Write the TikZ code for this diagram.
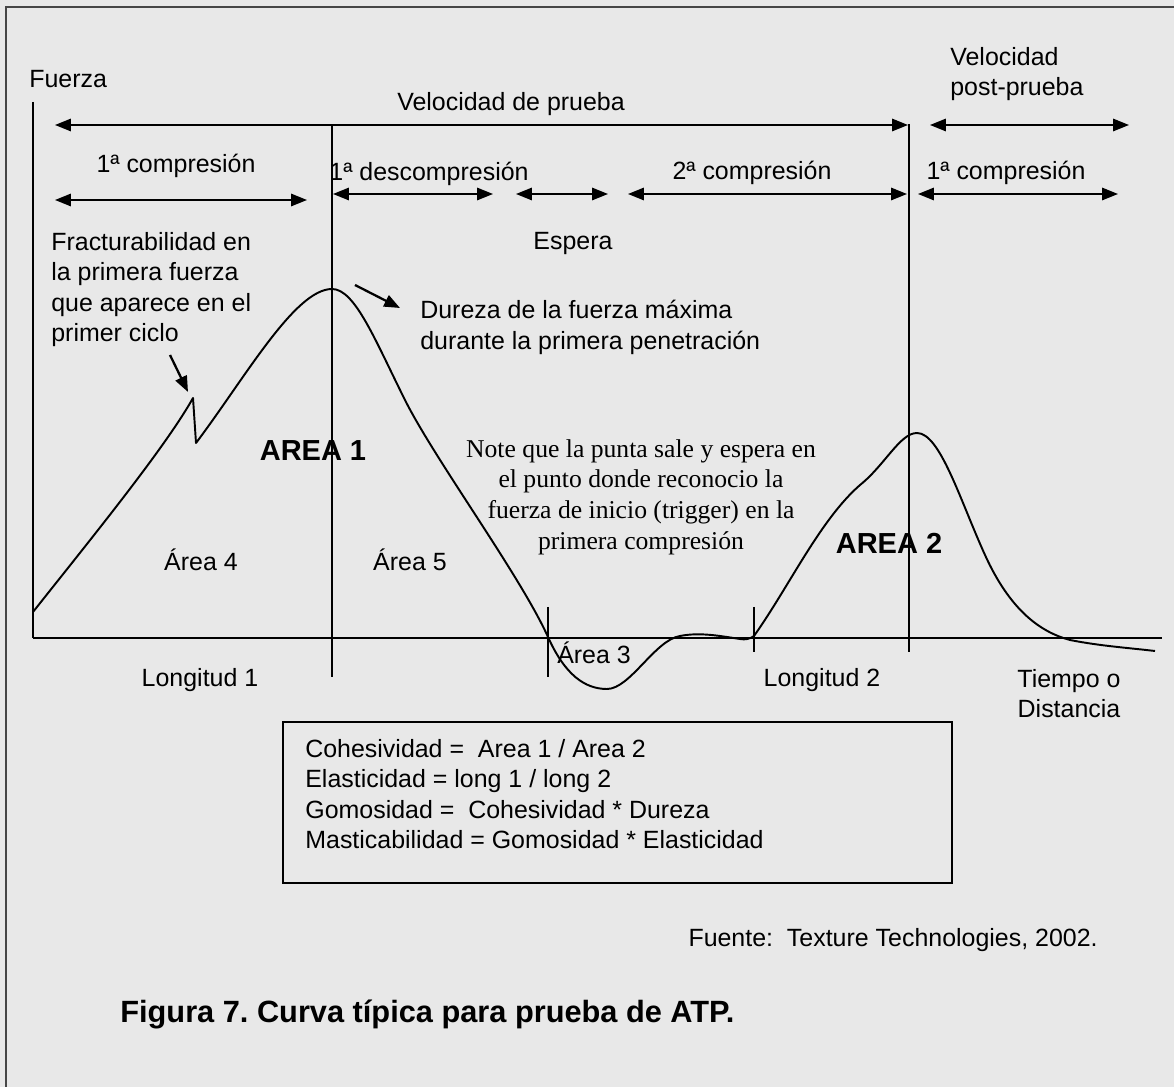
\documentclass[tikz,border=0pt]{standalone}
\usepackage{fontspec}
\setmainfont{Liberation Sans}
\newfontfamily\notefont{Liberation Serif}
\usetikzlibrary{arrows.meta}
\definecolor{fondo}{RGB}{232,232,232}
\definecolor{marco}{RGB}{70,70,70}
\frenchspacing

\begin{document}
\begin{tikzpicture}[x=0.02cm, y=-0.02cm,
		txt/.style={font=\fontsize{14.2}{17.3}\selectfont, inner sep=0pt},
		nota/.style={font=\notefont\fontsize{14.6}{17.5}\selectfont, inner sep=0pt, align=center},
		grande/.style={font=\bfseries\fontsize{16.5}{19}\selectfont, inner sep=0pt},
		rango/.style={{Triangle[length=9pt,width=7pt]}-{Triangle[length=9pt,width=7pt]}, line width=1pt},
		flecha/.style={-{Triangle[length=9pt,width=7pt]}, line width=1.3pt},
		guia/.style={line width=0.9pt},
		curva/.style={line width=1.1pt, line join=round}]
		% fondo y marco
		\fill[fondo] (0,0) rectangle (1174,1087);
		\useasboundingbox (0,0) rectangle (1174,1087);
		\draw[marco, line width=1.2pt] (6,1087) -- (6,7) -- (1174,7);

		% ejes
		\coordinate (origen) at (33,638);
		\coordinate (ytop) at (33,102);
		\coordinate (xfin) at (1162,638);
		\draw[line width=1.7pt] (ytop) -- (origen);
		\draw[line width=1pt] (origen) -- (xfin);
		\node[txt, anchor=base west] (fuerza) at (29,88) {Fuerza};

		% lineas guia
		\coordinate (g1t) at (332,125); \coordinate (g1b) at (332,677);
		\coordinate (g2t) at (909,124); \coordinate (g2b) at (909,652);
		\coordinate (t1t) at (548,607); \coordinate (t1b) at (548,677);
		\coordinate (t2t) at (754,607); \coordinate (t2b) at (754,652);
		\draw[guia] (g1t) -- (g1b);
		\draw[guia] (g2t) -- (g2b);
		\draw[guia] (t1t) -- (t1b);
		\draw[guia] (t2t) -- (t2b);

		% rangos de velocidad
		\coordinate (v1a) at (55,125); \coordinate (v1b) at (908,125);
		\coordinate (v2a) at (930,125); \coordinate (v2b) at (1129,125);
		\draw[rango] (v1a) -- (v1b);
		\draw[rango] (v2a) -- (v2b);
		\node[txt, anchor=base] (velprueba) at (511,111) {Velocidad de prueba};
		\node[txt, anchor=north west, align=left] (velpost) at (950,47) {Velocidad\\post-prueba};

		% rangos de etapas
		\coordinate (c1a) at (55,200); \coordinate (c1b) at (307,200);
		\coordinate (d1a) at (333,194); \coordinate (d1b) at (493,194);
		\coordinate (ea) at (516,194); \coordinate (eb) at (608,194);
		\coordinate (c2a) at (628,194); \coordinate (c2b) at (907,194);
		\coordinate (c3a) at (918,194); \coordinate (c3b) at (1118,194);
		\draw[rango] (c1a) -- (c1b);
		\draw[rango] (d1a) -- (d1b);
		\draw[rango] (ea) -- (eb);
		\draw[rango] (c2a) -- (c2b);
		\draw[rango] (c3a) -- (c3b);
		\node[txt, anchor=base] (comp1) at (176,173) {1ª compresión};
		\node[txt, anchor=base] (descomp1) at (429,181) {1ª descompresión};
		\node[txt, anchor=base] (espera) at (573,250) {Espera};
		\node[txt, anchor=base] (comp2) at (752,180) {2ª compresión};
		\node[txt, anchor=base] (comp3) at (1006,180) {1ª compresión};

		% curva
		\coordinate (pico) at (193,398);
		\coordinate (maximo) at (332,289);
		\draw[curva] (33,612) .. controls (90,540) and (165,448) .. (pico) -- (196,443)
			.. controls (245,378) and (295,289) .. (maximo)
			.. controls (355,289) and (375,340) .. (405,400)
			.. controls (435,460) and (520,575) .. (548,637)
			.. controls (565,675) and (585,689) .. (607,689)
			.. controls (630,689) and (655,640) .. (680,636)
			.. controls (700,632) and (720,636) .. (740,639)
			.. controls (745,640) and (750,639) .. (754,636);
		\draw[curva] (754,636) .. controls (790,585) and (820,520) .. (860,485)
			.. controls (885,465) and (900,433) .. (917,433)
			.. controls (940,433) and (960,500) .. (985,555)
			.. controls (1010,610) and (1040,632) .. (1070,640)
			.. controls (1100,646) and (1130,648) .. (1155,651);

		% anotaciones
		\node[txt, anchor=north west, align=left] (fractura) at (51,232)
			{Fracturabilidad en\\la primera fuerza\\que aparece en el\\primer ciclo};
		\draw[flecha] (170,355) -- ([shift={(-5,-6)}]pico);
		\node[txt, anchor=north west, align=left] (dureza) at (420,300)
			{Dureza de la fuerza máxima\\durante la primera penetración};
		\draw[flecha] ([shift={(23,-4)}]maximo) -- (400,308);
		\node[nota, anchor=north] (notapunta) at (641,439)
			{Note que la punta sale y espera en\\el punto donde reconocio la\\fuerza de inicio (trigger) en la\\primera compresión};

		% areas
		\node[grande, anchor=base] (area1) at (313,461) {AREA 1};
		\node[grande, anchor=base] (area2) at (889,554) {AREA 2};
		\node[txt, anchor=base] (area4) at (201,571) {Área 4};
		\node[txt, anchor=base] (area5) at (410,571) {Área 5};
		\node[txt, anchor=base] (area3) at (594,664) {Área 3};
		\node[txt, anchor=base] (long1) at (200,687) {Longitud 1};
		\node[txt, anchor=base] (long2) at (822,687) {Longitud 2};
		\node[txt, anchor=north, align=center] (tiempo) at (1069,669) {Tiempo o\\Distancia};

		% formulas
		\node[draw, line width=1pt, minimum width=13.38cm, minimum height=3.22cm, inner sep=0pt] (caja) at (617.5,802.5) {};
		\node[txt, anchor=north west, align=left] (formulas) at (305,739)
			{Cohesividad = \ Area 1 / Area 2\\Elasticidad = long 1 / long 2\\Gomosidad = \ Cohesividad * Dureza\\Masticabilidad = Gomosidad * Elasticidad};

		\node[txt, anchor=base east] (fuente) at (1098,946) {Fuente: \ Texture Technologies, 2002.};
		\node[font=\bfseries\fontsize{17.5}{20}\selectfont, inner sep=0pt, anchor=base west] (titulo) at (120,1022)
			{Figura 7. Curva típica para prueba de ATP.};
	\end{tikzpicture}
\end{document}
